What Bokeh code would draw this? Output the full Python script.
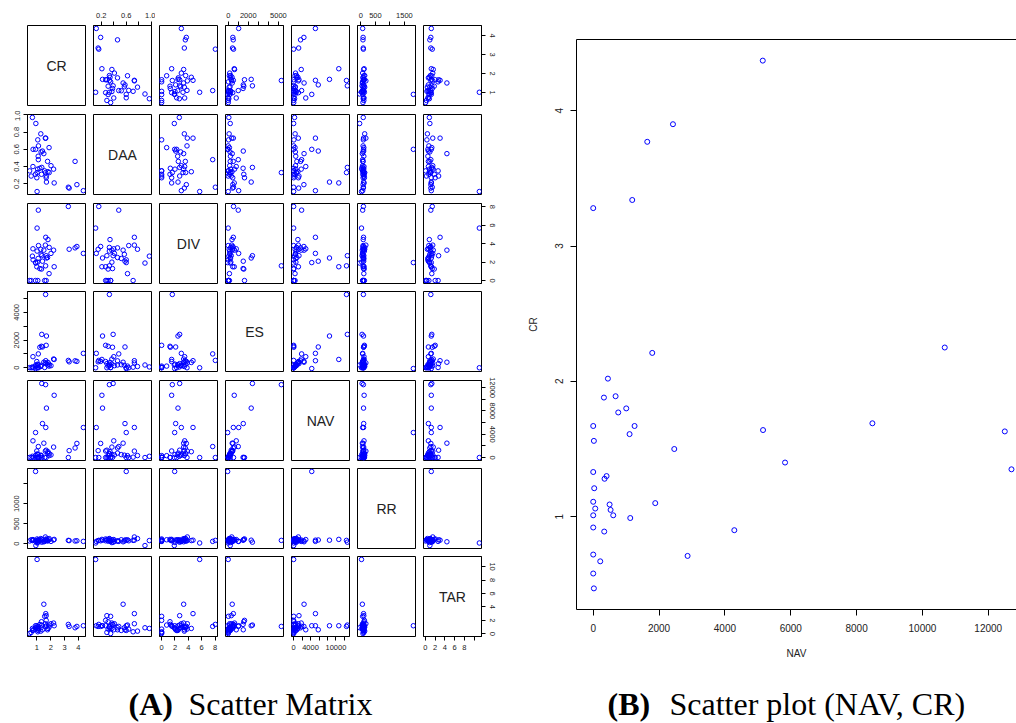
from bokeh.plotting import figure
from bokeh.models import ColumnDataSource, Range1d, LinearAxis, FixedTicker, Label
from bokeh.layouts import row, column
from bokeh.embed import file_html
from bokeh.resources import INLINE

# ---------------- data ----------------
variables = ["CR", "DAA", "DIV", "ES", "NAV", "RR", "TAR"]

NAV = [5150, 2422, 1641, 1185, 0, 10678, 1793, 446, 679, 325, 1003, 760, 8480, 0,
       1256, 5158, 12502, 1104, 20, 2462, 5827, 12705, 0, 405, 344, 30, 0, 1884,
       497, 61, 527, 0, 608, 1125, 0, 4286, 334, 0, 2866, 213, 0, 20]
CR = [4.37, 3.90, 3.77, 3.34, 3.28, 2.25, 2.21, 2.02, 1.89, 1.88, 1.80, 1.77, 1.69, 1.67,
      1.67, 1.64, 1.63, 1.61, 1.56, 1.50, 1.40, 1.35, 1.33, 1.30, 1.28, 1.21, 1.11, 1.10,
      1.09, 1.06, 1.05, 1.01, 1.01, 0.99, 0.92, 0.90, 0.89, 0.72, 0.71, 0.67, 0.58, 0.47]
DAA = [0.12, 0.19, 0.46, 0.15, 0.16, 0.21, 0.37, 0.41, 0.33, 0.62, 0.34, 0.46, 0.22, 0.27,
       0.29, 0.73, 0.33, 0.73, 0.35, 0.55, 0.58, 0.39, 0.31, 0.57, 0.78, 0.38, 0.64, 0.48,
       0.52, 0.71, 0.37, 0.11, 0.33, 0.27, 0.90, 0.60, 0.31, 0.60, 0.40, 0.97, 0.29, 0.35]
DIV = [2.95, 3.70, 3.55, 3.40, 8.05, 1.50, 3.30, 2.95, 3.60, 0.75, 4.45, 2.50, 2.45, 0.0,
       2.70, 4.70, 1.60, 3.85, 0.0, 3.30, 2.10, 2.70, 1.25, 2.85, 3.40, 1.30, 3.80, 7.65,
       2.40, 0.0, 2.00, 5.70, 3.20, 1.50, 1.90, 1.95, 0.0, 2.25, 3.45, 2.65, 0.0, 0.0]
ES = [1040, 460, 500, 430, 530, 600, 630, 150, 250, 120, 380, 200, 2290, 1620,
      300, 510, 5290, 350, 20, 400, 1500, 2410, 1550, 180, 90, 1480, 0, 1000,
      220, 40, 260, 0, 150, 450, 200, -56, 120, 0, 800, 60, 0, 10]
RR = [60, 75, 70, 80, 85, 110, 95, 60, 130, 100, 80, 70, 90, 120,
      100, 90, 85, 170, 60, 50, 95, 40, 110, 70, 130, 90, 75, 60,
      100, 85, 30, 20, 120, 75, -44, 1808, 65, 90, 105, 80, 100, 70]
TAR = [1.2, 1.1, 0.9, 1.1, 1.4, 1.2, 1.6, 1.5, 1.0, 1.3, 0.8, 0.6, 1.2, 2.0,
       2.7, 3.0, 1.1, 1.5, 2.6, 4.4, 0.6, 1.3, 1.8, 0.9, 0.4, 1.4, 0.7, 1.1,
       0.5, 0.3, 0.8, 11.06, 1.0, 1.2, 0.9, 1.2, 0.7, 0.5, 0.6, 0.8, 0.2, 0.04]

data = {"CR": CR, "DAA": DAA, "DIV": DIV, "ES": ES, "NAV": NAV, "RR": RR, "TAR": TAR}

# tick values and tick labels for each side
TICKS = {
    "CR": [1, 2, 3, 4],
    "DAA": [0.2, 0.4, 0.6, 0.8, 1.0],
    "DIV": [0, 2, 4, 6, 8],
    "ES": [0, 1000, 2000, 3000, 4000, 5000],
    "NAV": [0, 2000, 4000, 6000, 8000, 10000, 12000],
    "RR": [0, 500, 1000, 1500],
    "TAR": [0, 2, 4, 6, 8, 10],
}
LABELS_TOP = {"DAA": ["0.2", "", "0.6", "", "1.0"],
              "ES": ["0", "", "2000", "", "", "5000"],
              "RR": ["0", "500", "", "1500"]}
LABELS_BOTTOM = {"CR": ["1", "2", "3", "4"],
                 "DIV": ["0", "2", "4", "6", "8"],
                 "NAV": ["0", "", "4000", "", "", "10000", ""],
                 "TAR": ["0", "2", "4", "6", "8", ""]}
LABELS_LEFT = {"DAA": ["0.2", "0.4", "0.6", "0.8", "1.0"],
               "ES": ["0", "", "2000", "", "4000", ""],
               "RR": ["0", "500", "1000", ""]}
LABELS_RIGHT = {"CR": ["1", "2", "3", "4"],
                "DIV": ["0", "2", "4", "6", "8"],
                "NAV": ["0", "", "4000", "", "8000", "", "12000"],
                "TAR": ["0", "2", "4", "6", "8", "10"]}

B_X_TICKS = [0, 2000, 4000, 6000, 8000, 10000, 12000]
B_Y_TICKS = [1, 2, 3, 4]

CAPTION_A = ("(A)", "Scatter Matrix")
CAPTION_B = ("(B)", "Scatter plot (NAV, CR)")

# ---------------- helpers ----------------
SANS = "Liberation Sans"
SERIF = "Liberation Serif"
TXT = "#222222"


def padded(vals, f=0.04):
    lo, hi = min(vals), max(vals)
    s = hi - lo
    return lo - f * s, hi + f * s


def style_axis(ax, size="7.5px", tick_out=4, standoff=4):
    ax.major_tick_out = tick_out
    ax.major_tick_in = 0
    ax.minor_tick_line_color = None
    ax.axis_line_color = "black"
    ax.major_tick_line_color = "black"
    ax.major_label_text_font = SANS
    ax.major_label_text_font_size = size
    ax.major_label_text_color = TXT
    ax.major_label_standoff = standoff


def add_axis(p, side, var, labels):
    ticks = TICKS[var]
    ax = LinearAxis(ticker=FixedTicker(ticks=ticks),
                    major_label_overrides=dict(zip(ticks, labels)))
    style_axis(ax)
    if side in ("left", "right"):
        ax.major_label_orientation = "vertical"
    p.add_layout(ax, side)


src = ColumnDataSource(data)

FW, FH = 58, 80
col_left = [27, 4, 4, 4, 4, 4, 4]
col_right = [4, 4, 4, 4, 4, 4, 17]
row_top = [25, 4, 4, 4, 4, 4, 4]
row_bottom = [5, 5, 4, 5, 4, 4, 17]

rows = []
for r in range(7):
    figs = []
    for c in range(7):
        xv, yv = variables[c], variables[r]
        xr = padded(data[xv])
        yr = padded(data[yv])
        p = figure(width=col_left[c] + FW + col_right[c],
                   height=row_top[r] + FH + row_bottom[r],
                   x_range=Range1d(*xr), y_range=Range1d(*yr),
                   x_axis_location=None, y_axis_location=None,
                   toolbar_location=None, output_backend="svg",
                   min_border_left=col_left[c], min_border_right=col_right[c],
                   min_border_top=row_top[r], min_border_bottom=row_bottom[r])
        p.grid.grid_line_color = None
        p.outline_line_color = "black"
        p.outline_line_width = 1
        p.outline_line_alpha = 1
        p.background_fill_color = "white"
        p.border_fill_color = "white"
        if r == c:
            p.add_layout(Label(x=(xr[0] + xr[1]) / 2, y=(yr[0] + yr[1]) / 2, text=xv,
                               text_align="center", text_baseline="middle",
                               text_font=SANS, text_font_size="14px", text_color=TXT))
        else:
            p.scatter(xv, yv, source=src, marker="circle", size=4.5,
                      fill_color=None, line_color="blue", line_width=1)
        if r == 0 and xv in LABELS_TOP:
            add_axis(p, "above", xv, LABELS_TOP[xv])
        if r == 6 and xv in LABELS_BOTTOM:
            add_axis(p, "below", xv, LABELS_BOTTOM[xv])
        if c == 0 and yv in LABELS_LEFT:
            add_axis(p, "left", yv, LABELS_LEFT[yv])
        if c == 6 and yv in LABELS_RIGHT:
            add_axis(p, "right", yv, LABELS_RIGHT[yv])
        figs.append(p)
    rows.append(row(*figs, spacing=0))
matrix = column(*rows, spacing=0)

# ---------------- panel B ----------------
nav_lo, _ = padded(NAV)
nav_hi = max(NAV) + 0.012 * (max(NAV) - min(NAV))
pb = figure(width=518, height=661,
            x_range=Range1d(nav_lo, nav_hi), y_range=Range1d(*padded(CR)),
            x_axis_location=None, y_axis_location=None,
            toolbar_location=None, output_backend="svg",
            min_border_left=78, min_border_right=0, min_border_top=39, min_border_bottom=52)
pb.grid.grid_line_color = None
pb.outline_line_color = None
pb.scatter(x="NAV", y="CR", source=src, marker="circle", size=5,
           fill_color=None, line_color="blue", line_width=1)

xax = LinearAxis(ticker=FixedTicker(ticks=B_X_TICKS), axis_label="NAV",
                 major_label_overrides={t: str(t) for t in B_X_TICKS})
style_axis(xax, size="10px", tick_out=6, standoff=8)
xax.axis_label_text_font = SANS
xax.axis_label_text_font_size = "10px"
xax.axis_label_text_font_style = "normal"
xax.axis_label_text_color = TXT
xax.axis_label_standoff = 13
pb.add_layout(xax, "below")

yax = LinearAxis(ticker=FixedTicker(ticks=B_Y_TICKS), axis_label="CR",
                 major_label_overrides={t: str(t) for t in B_Y_TICKS})
style_axis(yax, size="10px", tick_out=6, standoff=7)
yax.major_label_orientation = "vertical"
yax.axis_label_text_font = SANS
yax.axis_label_text_font_size = "10px"
yax.axis_label_text_font_style = "normal"
yax.axis_label_text_color = TXT
yax.axis_label_standoff = 14
pb.add_layout(yax, "left")

topax = LinearAxis(ticker=FixedTicker(ticks=[]))
topax.major_tick_line_color = None
topax.minor_tick_line_color = None
topax.axis_line_color = "black"
pb.add_layout(topax, "above")

# ---------------- captions ----------------
cap = figure(width=1016, height=62, x_range=Range1d(0, 1016), y_range=Range1d(0, 62),
             x_axis_location=None, y_axis_location=None, toolbar_location=None,
             output_backend="svg", min_border=0)
cap.grid.grid_line_color = None
cap.outline_line_color = None
for (bold, rest), x0, x1 in ((CAPTION_A, 128, 188), (CAPTION_B, 607, 669)):
    cap.add_layout(Label(x=x0, y=20, text=bold, text_font=SERIF, text_font_style="bold",
                         text_font_size="32px", text_color="black",
                         text_baseline="middle"))
    cap.add_layout(Label(x=x1, y=20, text=rest, text_font=SERIF, text_font_style="normal",
                         text_font_size="32px", text_color="black",
                         text_baseline="middle"))

layout = column(row(matrix, pb, spacing=0), cap, spacing=0)

open("out.html", "w").write(file_html(layout, INLINE))
